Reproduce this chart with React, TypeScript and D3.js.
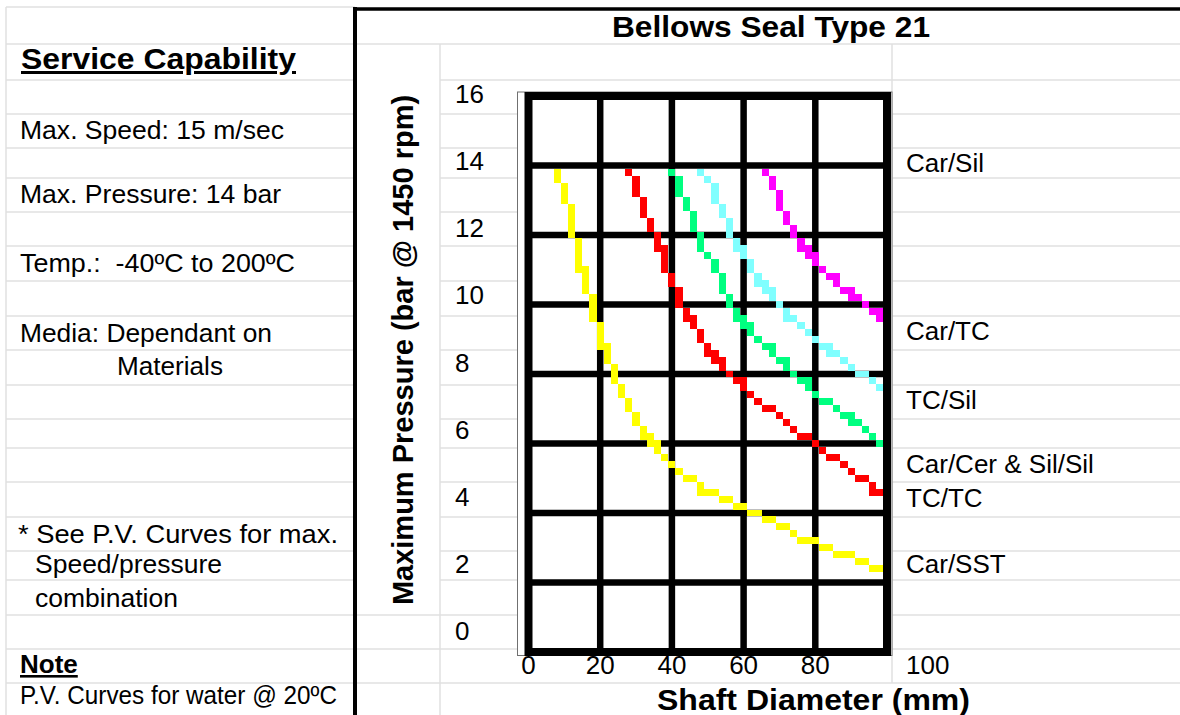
import { useEffect, useRef } from 'react'
import * as d3 from 'd3'

// Shaft diameter (mm) against max pressure (bar)
const carSstDia = [8, 10, 12, 14, 16, 18, 20, 22, 24, 26, 28, 30, 32, 34, 36, 38, 40, 42, 44, 47, 50, 53, 57, 61, 65, 69, 73, 78, 83, 88, 93, 98]
const carSstBar = [13.8, 13.1, 12.3, 11.4, 10.6, 9.9, 9.1, 8.5, 8.0, 7.4, 7.0, 6.7, 6.3, 6.0, 5.8, 5.6, 5.4, 5.2, 5.0, 4.8, 4.6, 4.4, 4.2, 4.0, 3.8, 3.6, 3.4, 3.2, 3.0, 2.8, 2.6, 2.4]

const tcTcDia = [28, 30, 32, 34, 36, 38, 40, 42, 44, 46, 48, 50, 52, 54, 56, 58, 60, 62, 64, 66, 69, 72, 74, 76, 79, 82, 85, 88, 90, 92, 95, 98]
const tcTcBar = [13.8, 13.4, 12.8, 12.3, 11.8, 11.2, 10.7, 10.2, 9.7, 9.3, 9.0, 8.7, 8.4, 8.2, 8.0, 7.8, 7.6, 7.4, 7.2, 7.0, 6.8, 6.6, 6.4, 6.2, 6.0, 5.8, 5.6, 5.4, 5.2, 5.0, 4.8, 4.6]

const carCerDia = [40, 42, 44, 46, 48, 50, 52, 54, 56, 58, 60, 62, 64, 66, 68, 70, 72, 74, 76, 78, 80, 82, 85, 88, 90, 93, 96, 98]
const carCerBar = [13.8, 13.4, 12.9, 12.4, 11.8, 11.3, 10.9, 10.5, 10.1, 9.7, 9.4, 9.2, 9.0, 8.8, 8.6, 8.4, 8.2, 8.0, 7.8, 7.6, 7.4, 7.2, 7.0, 6.8, 6.6, 6.4, 6.2, 6.0]

const tcSilDia = [48, 50, 52, 54, 56, 58, 60, 62, 64, 66, 68, 70, 72, 75, 78, 80, 82, 84, 87, 90, 92, 95, 98]
const tcSilBar = [13.8, 13.5, 13.1, 12.7, 12.2, 11.7, 11.4, 11.1, 10.7, 10.4, 10.2, 9.9, 9.6, 9.4, 9.2, 9.0, 8.8, 8.6, 8.4, 8.2, 8.0, 7.8, 7.6]

const carTcDia = [66, 68, 70, 72, 74, 76, 78, 80, 82, 84, 86, 88, 90, 93, 96, 98]
const carTcBar = [13.8, 13.5, 13.0, 12.5, 12.1, 11.7, 11.4, 11.2, 11.0, 10.8, 10.6, 10.4, 10.2, 10.0, 9.8, 9.6]

const series = [
    { dia: carSstDia, bar: carSstBar, color: '#ffff00' },
    { dia: tcTcDia, bar: tcTcBar, color: '#ff0000' },
    { dia: carCerDia, bar: carCerBar, color: '#00ff80' },
    { dia: tcSilDia, bar: tcSilBar, color: '#80ffff' },
    { dia: carTcDia, bar: carTcBar, color: '#ff00ff' },
]

const yTicks = [0, 2, 4, 6, 8, 10, 12, 14, 16]
const xTicks = [0, 20, 40, 60, 80, 100]

const curveNames = ['Car/Sil', 'Car/TC', 'TC/Sil', 'Car/Cer & Sil/Sil', 'TC/TC', 'Car/SST']

const noteLines = [
    'Max. Speed: 15 m/sec',
    'Max. Pressure: 14 bar',
    'Temp.:  -40ºC to 200ºC',
    'Media: Dependant on',
    'Materials',
    '* See P.V. Curves for max.',
    'Speed/pressure',
    'combination',
    'P.V. Curves for water @ 20ºC',
]

// spreadsheet row borders (px)
const rowY = [7, 44, 80, 114, 148, 178, 212, 246, 281, 316, 350, 385, 419, 448, 482, 517, 551, 580, 615, 649, 683]

const App = () => {
    const ref = useRef<SVGSVGElement>(null)

    useEffect(() => {
        const svg = d3.select(ref.current)
        svg.selectAll('*').remove()

        const x = d3.scaleLinear().domain([0, 100]).range([528.5, 887])
        const y = d3.scaleLinear().domain([0, 16]).range([652, 96])
        // tick labels sit in sheet cells, which don't line up with the gridlines
        const yLabel = d3.scaleLinear().domain([0, 16]).range([640, 103])

        // sheet gridlines
        const sheet = svg.append('g').attr('stroke', '#e1e1e1').attr('stroke-width', 1.5)
        const hline = (x1: number, x2: number, yy: number) =>
            sheet.append('line').attr('x1', x1).attr('x2', x2).attr('y1', yy).attr('y2', yy)
        const vline = (xx: number, y1: number, y2: number) =>
            sheet.append('line').attr('x1', xx).attr('x2', xx).attr('y1', y1).attr('y2', y2)
        rowY.forEach((r) => hline(6, 355, r))
        rowY.slice(1).forEach((r) => hline(440, 1180, r))
        ;[44, 615, 649, 683].forEach((r) => hline(355, 440, r))
        vline(6, 7, 715)
        vline(440, 44, 715)
        vline(892, 44, 683)

        // thick borders
        svg.append('line').attr('x1', 355).attr('x2', 355).attr('y1', 7).attr('y2', 715)
            .attr('stroke', '#000').attr('stroke-width', 4)
        svg.append('line').attr('x1', 353).attr('x2', 1180).attr('y1', 9).attr('y2', 9)
            .attr('stroke', '#000').attr('stroke-width', 3.5)

        // chart object
        svg.append('rect')
            .attr('x', 517.5).attr('y', 92).attr('width', 374.5).attr('height', 563.5)
            .attr('fill', '#fff').attr('stroke', '#707070').attr('stroke-width', 1)

        const grid = svg.append('g').attr('stroke', '#000')
        grid.selectAll('.gx')
            .data(xTicks.slice(1, -1))
            .join('line')
            .attr('x1', (d) => x(d)).attr('x2', (d) => x(d))
            .attr('y1', y(16)).attr('y2', y(0))
            .attr('stroke-width', 6.5)
        grid.selectAll('.gy')
            .data(yTicks.slice(1, -1))
            .join('line')
            .attr('y1', (d) => y(d)).attr('y2', (d) => y(d))
            .attr('x1', x(0)).attr('x2', x(100))
            .attr('stroke-width', 6.5)
        grid.append('rect')
            .attr('x', x(0)).attr('y', y(16))
            .attr('width', x(100) - x(0)).attr('height', y(0) - y(16))
            .attr('fill', 'none').attr('stroke-width', 8)

        // the curves come out blocky in the original: rasterise each polyline
        // onto a 2 mm x 0.2 bar cell grid
        const cellDia = 2
        const cellBar = 0.2
        const rasterise = (dia: number[], bar: number[]) => {
            const seen = new Set<string>()
            const cells: [number, number][] = []
            for (let k = 0; k < dia.length - 1; k++) {
                const gx0 = dia[k] / cellDia
                const gy0 = bar[k] / cellBar
                const gx1 = dia[k + 1] / cellDia
                const gy1 = bar[k + 1] / cellBar
                const n = Math.max(1, Math.ceil(Math.max(Math.abs(gx1 - gx0), Math.abs(gy1 - gy0))))
                for (let s = 0; s <= n; s++) {
                    const i = Math.round(gx0 + ((gx1 - gx0) * s) / n)
                    const j = Math.round(gy0 + ((gy1 - gy0) * s) / n)
                    const key = i + ',' + j
                    if (!seen.has(key)) {
                        seen.add(key)
                        cells.push([i, j])
                    }
                }
            }
            return cells
        }

        series.forEach((s) => {
            svg.append('g')
                .attr('fill', s.color)
                .attr('shape-rendering', 'crispEdges')
                .selectAll('rect')
                .data(rasterise(s.dia, s.bar))
                .join('rect')
                .attr('x', ([i]) => x(i * cellDia - cellDia / 2))
                .attr('width', ([i]) => x(i * cellDia + cellDia / 2) - x(i * cellDia - cellDia / 2))
                .attr('y', ([, j]) => y(j * cellBar + cellBar / 2))
                .attr('height', ([, j]) => y(j * cellBar - cellBar / 2) - y(j * cellBar + cellBar / 2))
        })

        const font = "'Liberation Sans', Arial, Helvetica, sans-serif"
        const text = svg.append('g').attr('font-family', font).attr('fill', '#000')

        // tick labels
        text.selectAll('.yt')
            .data(yTicks)
            .join('text')
            .attr('x', 455)
            .attr('y', (d) => yLabel(d))
            .attr('font-size', 26)
            .text((d) => d)
        text.selectAll('.xt')
            .data(xTicks)
            .join('text')
            .attr('x', (d) => (d === 100 ? x(d) + 19 : x(d)))
            .attr('y', 674)
            .attr('text-anchor', (d) => (d === 100 ? 'start' : 'middle'))
            .attr('font-size', 26)
            .text((d) => d)

        // titles (widths pinned to the original's wider bold face)
        text.append('text')
            .attr('x', 612).attr('y', 37)
            .attr('font-size', 30).attr('font-weight', 'bold')
            .attr('textLength', 318).attr('lengthAdjust', 'spacingAndGlyphs')
            .text('Bellows Seal Type 21')
        text.append('text')
            .attr('transform', 'translate(413,350) rotate(-90)')
            .attr('text-anchor', 'middle')
            .attr('font-size', 29).attr('font-weight', 'bold')
            .text('Maximum Pressure (bar @ 1450 rpm)')
        text.append('text')
            .attr('x', 657).attr('y', 710)
            .attr('font-size', 30).attr('font-weight', 'bold')
            .attr('textLength', 313).attr('lengthAdjust', 'spacingAndGlyphs')
            .text('Shaft Diameter (mm)')

        // curve labels, in their sheet rows
        const curveLabelY = [172, 340, 409, 473, 507, 573]
        text.selectAll('.cl')
            .data(curveNames)
            .join('text')
            .attr('x', 906)
            .attr('y', (_, i) => curveLabelY[i])
            .attr('font-size', 26)
            .text((d) => d)

        // left panel
        text.append('text')
            .attr('x', 21).attr('y', 69)
            .attr('font-size', 30).attr('font-weight', 'bold')
            .attr('text-decoration', 'underline')
            .attr('textLength', 275).attr('lengthAdjust', 'spacingAndGlyphs')
            .text('Service Capability')

        const noteX = [20, 20, 20, 20, 117, 18, 35, 35, 20]
        const noteY = [139, 203, 272, 342, 375, 543, 573, 607, 704]
        const noteW = [264, 261, 275, 252, 106, 320, 187, 143, 317]
        text.selectAll('.ln')
            .data(noteLines)
            .join('text')
            .attr('x', (_, i) => noteX[i])
            .attr('y', (_, i) => noteY[i])
            .attr('font-size', 26)
            .attr('textLength', (_, i) => noteW[i])
            .attr('lengthAdjust', 'spacingAndGlyphs')
            .style('white-space', 'pre')
            .text((d) => d)
        text.append('text')
            .attr('x', 20).attr('y', 673)
            .attr('font-size', 26).attr('font-weight', 'bold')
            .attr('text-decoration', 'underline')
            .text('Note')
    }, [])

    return (
        <div style={{ position: 'absolute', left: 0, top: 0 }}>
            <svg ref={ref} width={1180} height={715} style={{ display: 'block', background: '#fff' }} />
        </div>
    )
}

export default App
